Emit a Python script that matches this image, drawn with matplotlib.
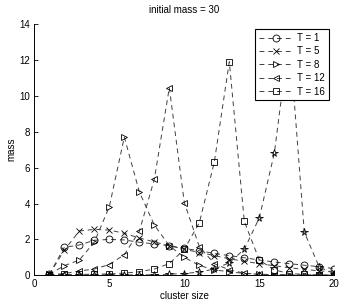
import matplotlib
matplotlib.use("Agg")
import matplotlib.pyplot as plt
import numpy as np

plt.rcParams['font.family'] = ['Liberation Sans', 'DejaVu Sans']

cluster_size = list(range(1, 21))
t1 = [0.05, 1.56, 1.69, 1.95, 2.0, 1.97, 1.84, 1.75, 1.65, 1.5, 1.37, 1.22, 1.1, 0.98, 0.85, 0.74, 0.65, 0.56, 0.48, 0.37]
t5 = [0.05, 1.4, 2.47, 2.56, 2.52, 2.34, 2.08, 1.86, 1.65, 1.45, 1.27, 1.1, 0.92, 0.78, 0.65, 0.53, 0.42, 0.33, 0.25, 0.18]
t8 = [0.05, 0.54, 0.85, 1.85, 3.82, 7.7, 4.65, 2.8, 1.65, 1.0, 0.55, 0.3, 0.2, 0.1, 0.06, 0.04, 0.03, 0.02, 0.01, 0.01]
t12 = [0.02, 0.1, 0.24, 0.35, 0.6, 1.15, 2.45, 5.35, 10.45, 4.05, 1.6, 0.65, 0.3, 0.12, 0.05, 0.03, 0.02, 0.01, 0.01, 0.01]
t16 = [0.02, 0.05, 0.05, 0.06, 0.08, 0.12, 0.2, 0.35, 0.65, 1.45, 2.93, 6.3, 11.9, 3.0, 0.85, 0.3, 0.1, 0.05, 0.02, 0.01]
t20 = [0.02, 0.02, 0.02, 0.02, 0.02, 0.02, 0.02, 0.03, 0.06, 0.1, 0.18, 0.35, 0.7, 1.45, 3.2, 6.8, 13.3, 2.4, 0.45, 0.1]

series = [
    (t1, 'o', 'T = 1'),
    (t5, 'x', 'T = 5'),
    (t8, '>', 'T = 8'),
    (t12, '<', 'T = 12'),
    (t16, 's', 'T = 16'),
]

fig = plt.figure(figsize=(3.45, 3.06), dpi=100)
ax = fig.add_axes([0.0995, 0.1003, 0.8695, 0.8213])

line_color = '#404040'
handles = []
for vals, m, lab in series:
    h, = ax.plot(cluster_size, vals, linestyle=(0, (5, 4)), color=line_color,
                 linewidth=0.7, marker=m, markersize=5 if m != 'x' else 4.5,
                 markerfacecolor='none', markeredgecolor='black',
                 markeredgewidth=0.6, label=lab)
    handles.append(h)
ax.plot(cluster_size, t20, linestyle=(0, (5, 4)), color=line_color,
        linewidth=0.7, marker='*', markersize=5.5, markerfacecolor='none',
        markeredgecolor='black', markeredgewidth=0.6)

ax.set_xlim(0, 20)
ax.set_ylim(0, 14)
ax.set_xticks([0, 5, 10, 15, 20])
ax.set_yticks(range(0, 15, 2))
ax.tick_params(direction='in', length=3, width=0.6, labelsize=7, pad=3,
               top=False, right=False)
for s in ['top', 'right']:
    ax.spines[s].set_visible(False)
for s in ['left', 'bottom']:
    ax.spines[s].set_linewidth(0.7)

ax.set_title('initial mass = 30', fontsize=7, pad=8)
ax.set_xlabel('cluster size', fontsize=7, labelpad=1)
ax.set_ylabel('mass', fontsize=7, labelpad=2)

leg = ax.legend(handles=handles, loc='upper right', bbox_to_anchor=(0.983, 0.98),
                fontsize=7, frameon=True, fancybox=False, handlelength=3.6,
                handletextpad=0.4, borderpad=0.4, labelspacing=0.35,
                borderaxespad=0)
leg.get_frame().set_edgecolor('black')
leg.get_frame().set_linewidth(0.8)
leg.get_frame().set_alpha(1)
leg.set_zorder(10)

fig.savefig('out.png', dpi=100)
